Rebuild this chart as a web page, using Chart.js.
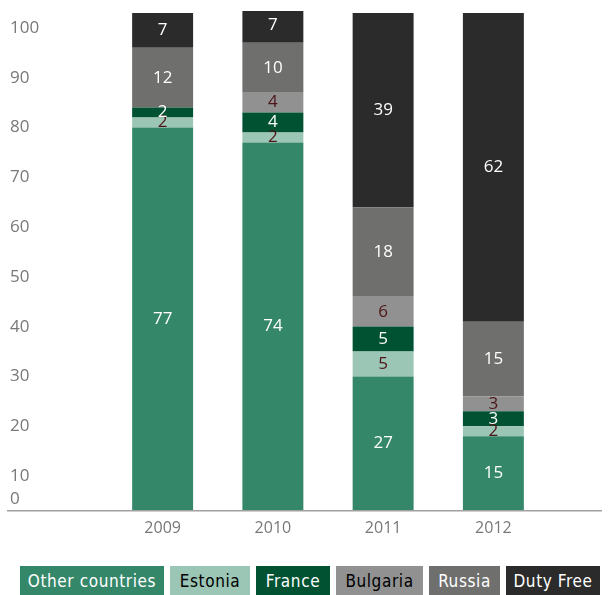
<!DOCTYPE html>
<html>
<head>
<meta charset="utf-8">
<script src="https://cdn.jsdelivr.net/npm/chart.js@4/dist/chart.umd.min.js"></script>
<style>
    body { margin: 0; background: #fff; }
    #wrap { position: relative; width: 608px; height: 595px; overflow: hidden; }
    #grafico { position: absolute; left: 0; top: 0; }
    #legenda {
        position: absolute; left: 20px; top: 566px;
        display: flex; gap: 6px;
        font-family: "DejaVu Sans Condensed", "DejaVu Sans", sans-serif;
        font-size: 17px;
    }
    #legenda span {
        display: block; flex: none; height: 29px; line-height: 31px;
        padding: 0 4px; letter-spacing: 0.6px; white-space: nowrap;
        box-sizing: border-box; text-align: center;
    }
    #legenda span:nth-child(1) { width: 144px; }
    #legenda span:nth-child(2) { width: 80px; }
    #legenda span:nth-child(3) { width: 74px; }
    #legenda span:nth-child(4) { width: 87px; }
    #legenda span:nth-child(5) { width: 71px; }
    #legenda span:nth-child(6) { width: 94px; }
</style>
</head>
<body>
<div id="wrap">
    <canvas id="grafico" width="608" height="550"></canvas>
    <div id="legenda"></div>
</div>
<script>
const anos = ['2009', '2010', '2011', '2012'];
const yTicks = [0, 10, 20, 30, 40, 50, 60, 70, 80, 90, 100];

const outrosPaises = [77, 74, 27, 15];
const estonia = [2, 2, 5, 2];
const franca = [2, 4, 5, 3];
const bulgaria = [0, 4, 6, 3];
const russia = [12, 10, 18, 15];
const dutyFree = [7, 7, 39, 62];

const series = [
    { label: 'Other countries', data: outrosPaises, cor: '#35876a', texto: '#ffffff' },
    { label: 'Estonia', data: estonia, cor: '#9bc5b5', texto: '#4d1517' },
    { label: 'France', data: franca, cor: '#005233', texto: '#ffffff' },
    { label: 'Bulgaria', data: bulgaria, cor: '#919191', texto: '#4d1517' },
    { label: 'Russia', data: russia, cor: '#6f6f6e', texto: '#ffffff' },
    { label: 'Duty Free', data: dutyFree, cor: '#2a2b2a', texto: '#ffffff' }
];

const legendaTexto = ['#ffffff', '#000000', '#ffffff', '#000000', '#ffffff', '#ffffff'];

// valores dentro de cada segmento
const rotulos = {
    id: 'rotulos',
    afterDatasetsDraw(chart) {
        const ctx = chart.ctx;
        ctx.save();
        ctx.font = '17px "Open Sans", sans-serif';
        ctx.textAlign = 'center';
        ctx.textBaseline = 'middle';
        chart.data.datasets.forEach((ds, i) => {
            chart.getDatasetMeta(i).data.forEach((bar, j) => {
                const v = ds.data[j];
                if (!v) return;
                const p = bar.getProps(['x', 'y', 'base'], true);
                ctx.fillStyle = series[i].texto;
                ctx.fillText(String(v), p.x, (p.y + p.base) / 2);
            });
        });
        ctx.restore();
    }
};

// eixo y: rótulos um pouco abaixo da posição, linha de base estendida
const eixoY = {
    id: 'eixoY',
    afterDraw(chart) {
        const ctx = chart.ctx;
        const y = chart.scales.y;
        const base = y.getPixelForValue(0);
        ctx.save();
        ctx.strokeStyle = '#a0a0a0';
        ctx.lineWidth = 1.5;
        ctx.beginPath();
        ctx.moveTo(7, base);
        ctx.lineTo(602, base);
        ctx.stroke();

        ctx.font = '17px "Open Sans", sans-serif';
        ctx.fillStyle = '#787878';
        ctx.textAlign = 'left';
        ctx.textBaseline = 'middle';
        yTicks.forEach(v => {
            const py = Math.min(y.getPixelForValue(v) + 15, base - 12);
            ctx.fillText(String(v), 10, py);
        });
        ctx.restore();
    }
};

const chart = new Chart(document.getElementById('grafico'), {
    type: 'bar',
    data: {
        labels: anos,
        datasets: series.map(s => ({
            label: s.label,
            data: s.data,
            backgroundColor: s.cor,
            borderWidth: 0,
            barPercentage: 1,
            categoryPercentage: 0.553,
            clip: 0
        }))
    },
    options: {
        responsive: false,
        animation: false,
        layout: { padding: { left: 107.5, right: 59.5, top: 11, bottom: 4 } },
        scales: {
            x: {
                stacked: true,
                grid: { display: false, drawTicks: false },
                border: { display: false },
                ticks: {
                    color: '#787878',
                    padding: 8,
                    font: { family: '"Open Sans", sans-serif', size: 16 }
                }
            },
            y: {
                stacked: true,
                display: false,
                min: 0,
                max: 100.4
            }
        },
        plugins: {
            legend: { display: false },
            tooltip: { enabled: false }
        }
    },
    plugins: [rotulos, eixoY]
});

// legenda em caixas coloridas
const legenda = document.getElementById('legenda');
chart.data.datasets.forEach((ds, i) => {
    const item = document.createElement('span');
    item.textContent = ds.label;
    item.style.background = ds.backgroundColor;
    item.style.color = legendaTexto[i];
    legenda.appendChild(item);
});
</script>
</body>
</html>
